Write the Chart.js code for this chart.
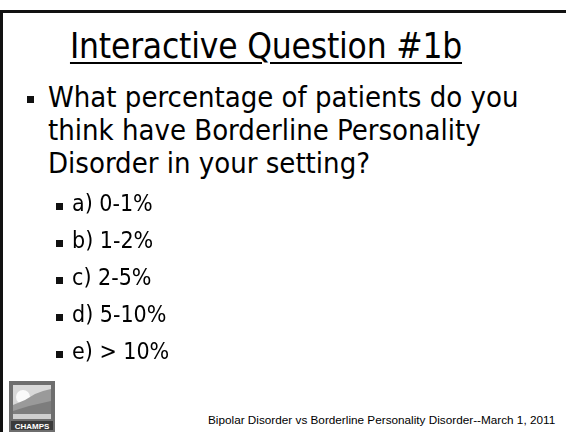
<!DOCTYPE html>
<html lang="en">
<head>
<meta charset="UTF-8">
<title>Interactive Question #1b</title>
<script src="https://cdn.jsdelivr.net/npm/chart.js"></script>
<style>
    html, body {
        margin: 0;
        padding: 0;
        background: #fff;
    }
    #slide {
        position: relative;
        width: 566px;
        height: 432px;
        overflow: hidden;
        font-family: 'DejaVu Sans Condensed', 'DejaVu Sans', sans-serif;
        color: #000;
    }
    .rule-top {
        position: absolute; left: 0; top: 10px; width: 566px; height: 3px; background: #111;
    }
    .rule-left {
        position: absolute; left: 0; top: 10px; width: 3px; height: 422px; background: #111;
    }
    #title {
        position: absolute; left: 0; top: 26px; width: 532px;
        text-align: center;
        font-size: 35px;
        line-height: 40px;
        letter-spacing: -0.2px;
        text-decoration: underline;
        text-decoration-thickness: 2px;
        text-underline-offset: 4px;
        white-space: nowrap;
    }
    #question {
        position: absolute; left: 48px; top: 81px; width: 515px;
        font-size: 29px;
        line-height: 33px;
        white-space: nowrap;
    }
    .bullet {
        position: absolute; left: 27px; top: 96px; width: 7px; height: 7px; background: #111;
    }
    #chartBox {
        position: absolute; left: 0; top: 173px; width: 300px; height: 212px;
    }
    #footer {
        position: absolute; left: 208px; top: 413px;
        font-family: 'Liberation Sans', Arial, sans-serif;
        font-size: 11.75px;
        line-height: 13px;
        white-space: nowrap;
    }
    #logo {
        position: absolute; left: 9px; top: 381px;
    }
</style>
</head>
<body>
<div id="slide">
    <div class="rule-top"></div>
    <div class="rule-left"></div>
    <div id="title"></div>
    <div class="bullet"></div>
    <div id="question"></div>
    <div id="chartBox"><canvas id="answers"></canvas></div>
    <svg id="logo" width="46" height="52" viewBox="0 0 46 52">
        <rect x="0" y="0" width="46" height="52" fill="#6e6e6e"/>
        <rect x="4" y="4" width="38" height="34" fill="#d8d8d8"/>
        <circle cx="14" cy="16" r="7" fill="#fafafa"/>
        <path d="M4 24 L16 19 L26 13 L34 10 L42 8 L42 38 L4 38 Z" fill="#9a9a9a"/>
        <path d="M4 30 L20 25 L42 20 L42 38 L4 38 Z" fill="#7d7d7d"/>
        <rect x="4" y="33" width="38" height="5" fill="#cfcfcf"/>
        <rect x="2" y="40" width="42" height="9" fill="#3a3a3a"/>
        <text x="23" y="47.5" text-anchor="middle" font-family="Liberation Sans" font-weight="bold" font-size="8" fill="#fff">CHAMPS</text>
    </svg>
    <div id="footer"></div>
</div>

<script>
    const slideTitle = 'Interactive Question #1b';
    const questionLines = ['What percentage of patients do you', 'think have Borderline Personality', 'Disorder in your setting?'];
    const answerLabels = ['a) 0-1%', 'b) 1-2%', 'c) 2-5%', 'd) 5-10%', 'e) > 10%'];
    const answerResponses = [0, 0, 0, 0, 0];   // no votes shown on the slide
    const footerText = 'Bipolar Disorder vs Borderline Personality Disorder--March 1, 2011';

    document.getElementById('title').textContent = slideTitle;
    const q = document.getElementById('question');
    questionLines.forEach(line => {
        const d = document.createElement('div');
        d.textContent = line;
        q.appendChild(d);
    });
    document.getElementById('footer').textContent = footerText;

    // small square bullet in front of every answer, placed on the y scale
    const bulletPlugin = {
        id: 'bullets',
        afterDraw(chart) {
            const ctx = chart.ctx, y = chart.scales.y;
            ctx.save();
            ctx.fillStyle = '#111';
            answerLabels.forEach((l, i) => {
                const py = y.getPixelForValue(i);
                ctx.fillRect(56, Math.round(py) - 2, 7, 7);
            });
            ctx.restore();
        }
    };

    new Chart(document.getElementById('answers'), {
        type: 'bar',
        data: {
            labels: answerLabels,
            datasets: [{ data: answerResponses, backgroundColor: '#4a4a4a', borderWidth: 0 }]
        },
        options: {
            indexAxis: 'y',
            responsive: true,
            maintainAspectRatio: false,
            animation: false,
            events: [],
            layout: { padding: { left: 72, top: 7, bottom: 7, right: 0 } },
            plugins: { legend: { display: false }, tooltip: { enabled: false } },
            scales: {
                x: { display: false, min: 0, max: 10 },
                y: {
                    grid: { display: false, drawTicks: false },
                    border: { display: false },
                    ticks: {
                        crossAlign: 'far',
                        color: '#000',
                        padding: 0,
                        font: { family: "'DejaVu Sans Condensed', 'DejaVu Sans', sans-serif", size: 23 }
                    }
                }
            }
        },
        plugins: [bulletPlugin]
    });
</script>
</body>
</html>
